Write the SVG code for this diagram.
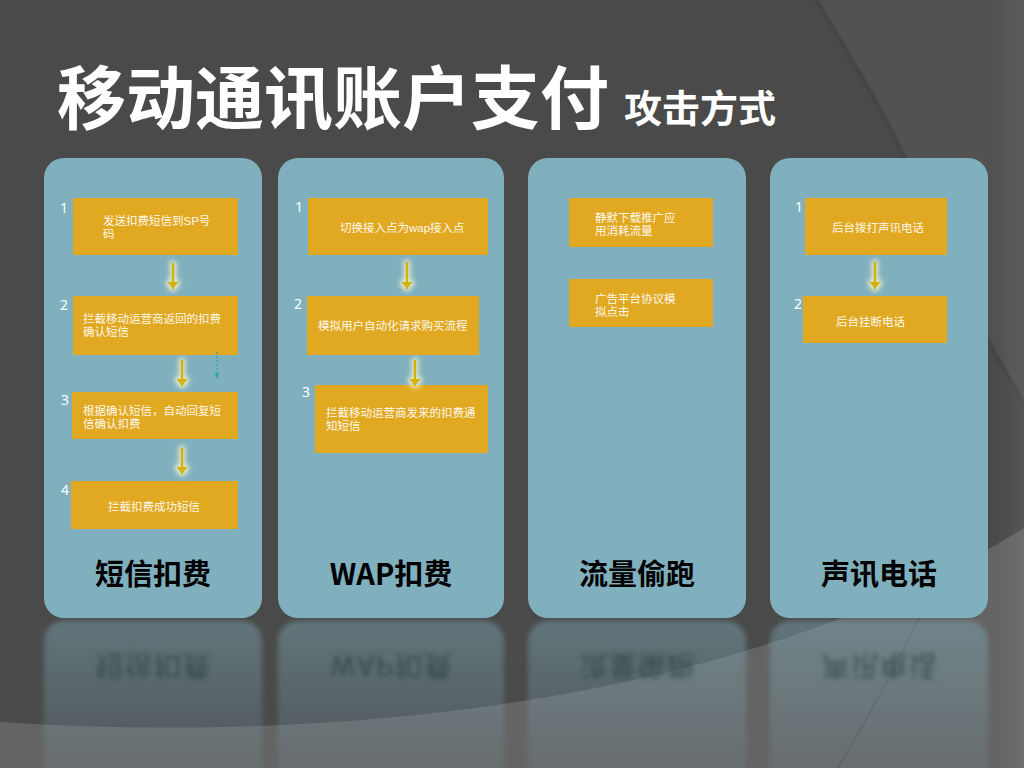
<svg xmlns="http://www.w3.org/2000/svg" width="1024" height="768" viewBox="0 0 1024 768">
<defs>
<style>
.panel{fill:#80B0BE}
.box{fill:#E1A822}
.bt{font-family:'Liberation Sans','Noto Sans CJK SC',sans-serif;font-size:11.5px;fill:#FFF8EC}
.num{font-family:'Noto Sans','Noto Sans CJK SC',sans-serif;font-size:14px;fill:#FFFFFF}
.pt{font-family:'Noto Sans CJK SC',sans-serif;font-size:29px;font-weight:700;fill:#000000;text-anchor:middle}
.rt{font-family:'Noto Sans CJK SC',sans-serif;font-size:29px;font-weight:700;fill:#1E2A2E;fill-opacity:0.5;text-anchor:middle}
.arrow{stroke:#D4B200;stroke-width:2.5;fill:none;marker-end:url(#ah)}
.dash{stroke:#2AA6A6;stroke-width:1.2;stroke-dasharray:2 2;fill:none;marker-end:url(#ah2)}
.rp{fill:url(#rg)}
</style>
<marker id="ah" viewBox="0 0 7 11" markerWidth="7" markerHeight="11" refX="7" refY="5.5" orient="auto" markerUnits="userSpaceOnUse">
<path d="M0,0 L7,5.5 L0,11 Z" fill="#D4B200"/>
</marker>
<marker id="ah2" viewBox="0 0 5 5" markerWidth="5" markerHeight="5" refX="5" refY="2.5" orient="auto" markerUnits="userSpaceOnUse">
<path d="M0,0 L5,2.5 L0,5 Z" fill="#2AA6A6"/>
</marker>
<filter id="glow" x="-50%" y="-50%" width="200%" height="200%">
<feMorphology in="SourceAlpha" operator="dilate" radius="2" result="d"/>
<feGaussianBlur in="d" stdDeviation="2.5" result="b"/>
<feFlood flood-color="#F4F2CC" flood-opacity="0.9"/>
<feComposite in2="b" operator="in" result="g"/>
<feMerge><feMergeNode in="g"/><feMergeNode in="SourceGraphic"/></feMerge>
</filter>
<filter id="rblur" x="-5%" y="-5%" width="110%" height="110%">
<feGaussianBlur stdDeviation="2.4"/>
</filter>
<filter id="sblur" x="-10%" y="-10%" width="120%" height="120%">
<feGaussianBlur stdDeviation="1.5"/>
</filter>
<linearGradient id="rg" gradientUnits="userSpaceOnUse" x1="0" y1="621" x2="0" y2="768">
<stop offset="0" stop-color="#80B0BE" stop-opacity="0.42"/>
<stop offset="1" stop-color="#80B0BE" stop-opacity="0.12"/>
</linearGradient>
<linearGradient id="edge" x1="0" y1="0" x2="1" y2="0">
<stop offset="0" stop-color="#FFFFFF" stop-opacity="0"/>
<stop offset="1" stop-color="#FFFFFF" stop-opacity="0.06"/>
</linearGradient>
</defs>

<g id="background">
<rect width="1024" height="768" fill="#4A4A4A"/>
<path d="M818,0 C860,70 890,120 910,165 C940,235 980,330 1024,400 L1024,0 Z" fill="#525252"/>
<path d="M816,0 C858,70 888,120 908,165 C938,235 978,330 1022,400" fill="none" stroke="#3E3E3E" stroke-width="2" filter="url(#sblur)"/>
<path d="M0,722 C350,745 750,700 1024,528 L1024,768 L0,768 Z" fill="#646464"/>
<path d="M928,600 Q885,690 838,768" fill="none" stroke="#4E4E4E" stroke-width="1"/>
<rect x="996" y="0" width="28" height="768" fill="url(#edge)"/>
</g>

<g id="title">
<text x="57" y="124" font-family="'Noto Sans CJK SC',sans-serif" font-size="69" font-weight="700" fill="#FFFFFF">移动通讯账户支付</text>
<text x="624" y="122" font-family="'Noto Sans CJK SC',sans-serif" font-size="38" font-weight="700" fill="#FFFFFF">攻击方式</text>
</g>

<g id="reflection" filter="url(#rblur)">
<rect class="rp" x="44" y="621" width="218" height="170" rx="20"/>
<rect class="rp" x="278" y="621" width="226" height="170" rx="20"/>
<rect class="rp" x="528" y="621" width="218" height="170" rx="20"/>
<rect class="rp" x="770" y="621" width="218" height="170" rx="20"/>
<g transform="translate(0,1240) scale(1,-1)">
<text class="rt" x="153" y="585">短信扣费</text>
<text class="rt" x="391" y="585">WAP扣费</text>
<text class="rt" x="637" y="585">流量偷跑</text>
<text class="rt" x="879" y="585">声讯电话</text>
</g>
</g>

<g id="panel-sms">
<rect class="panel" x="44" y="158" width="218" height="460" rx="20"/>
<text class="pt" x="153" y="585">短信扣费</text>
</g>
<g id="sms-step1">
<rect class="box" x="73" y="198" width="165" height="57"/>
<text class="num" x="60" y="213">1</text>
<text class="bt" x="103" y="225">发送扣费短信到SP号<tspan x="103" dy="13">码</tspan></text>
</g>
<g id="sms-step2">
<rect class="box" x="73" y="296" width="165" height="59"/>
<text class="num" x="60" y="310">2</text>
<text class="bt" x="83" y="323">拦截移动运营商返回的扣费<tspan x="83" dy="13">确认短信</tspan></text>
</g>
<g id="sms-step3">
<rect class="box" x="72" y="392" width="166" height="47"/>
<text class="num" x="61" y="405">3</text>
<text class="bt" x="83" y="415">根据确认短信，自动回复短<tspan x="83" dy="13">信确认扣费</tspan></text>
</g>
<g id="sms-step4">
<rect class="box" x="71" y="481" width="167" height="48"/>
<text class="num" x="61" y="495">4</text>
<text class="bt" x="108" y="511">拦截扣费成功短信</text>
</g>

<g id="panel-wap">
<rect class="panel" x="278" y="158" width="226" height="460" rx="20"/>
<text class="pt" x="391" y="585">WAP扣费</text>
</g>
<g id="wap-step1">
<rect class="box" x="308" y="198" width="180" height="57"/>
<text class="num" x="295" y="212">1</text>
<text class="bt" x="340" y="232">切换接入点为wap接入点</text>
</g>
<g id="wap-step2">
<rect class="box" x="307" y="296" width="172" height="59"/>
<text class="num" x="294" y="309">2</text>
<text class="bt" x="318" y="330">模拟用户自动化请求购买流程</text>
</g>
<g id="wap-step3">
<rect class="box" x="315" y="385" width="173" height="68"/>
<text class="num" x="302" y="397">3</text>
<text class="bt" x="326" y="417">拦截移动运营商发来的扣费通<tspan x="326" dy="13">知短信</tspan></text>
</g>

<g id="panel-traffic">
<rect class="panel" x="528" y="158" width="218" height="460" rx="20"/>
<text class="pt" x="637" y="585">流量偷跑</text>
</g>
<g id="traffic-item1">
<rect class="box" x="569" y="198" width="144" height="49"/>
<text class="bt" x="595" y="222">静默下载推广应<tspan x="595" dy="13">用消耗流量</tspan></text>
</g>
<g id="traffic-item2">
<rect class="box" x="569" y="279" width="144" height="48"/>
<text class="bt" x="595" y="303">广告平台协议模<tspan x="595" dy="13">拟点击</tspan></text>
</g>

<g id="panel-voice">
<rect class="panel" x="770" y="158" width="218" height="460" rx="20"/>
<text class="pt" x="879" y="585">声讯电话</text>
</g>
<g id="voice-step1">
<rect class="box" x="805" y="198" width="142" height="57"/>
<text class="num" x="795" y="212">1</text>
<text class="bt" x="832" y="232">后台拨打声讯电话</text>
</g>
<g id="voice-step2">
<rect class="box" x="803" y="296" width="144" height="47"/>
<text class="num" x="794" y="309">2</text>
<text class="bt" x="836" y="326">后台挂断电话</text>
</g>

<g id="connectors">
<g filter="url(#glow)">
<line class="arrow" x1="173" y1="263" x2="173" y2="289"/>
<line class="arrow" x1="182" y1="360" x2="182" y2="386"/>
<line class="arrow" x1="182" y1="448" x2="182" y2="474"/>
<line class="arrow" x1="407" y1="262" x2="407" y2="289"/>
<line class="arrow" x1="415" y1="360" x2="415" y2="386"/>
<line class="arrow" x1="875" y1="262" x2="875" y2="289"/>
</g>
<line class="dash" x1="217" y1="352" x2="217" y2="378"/>
</g>
</svg>
